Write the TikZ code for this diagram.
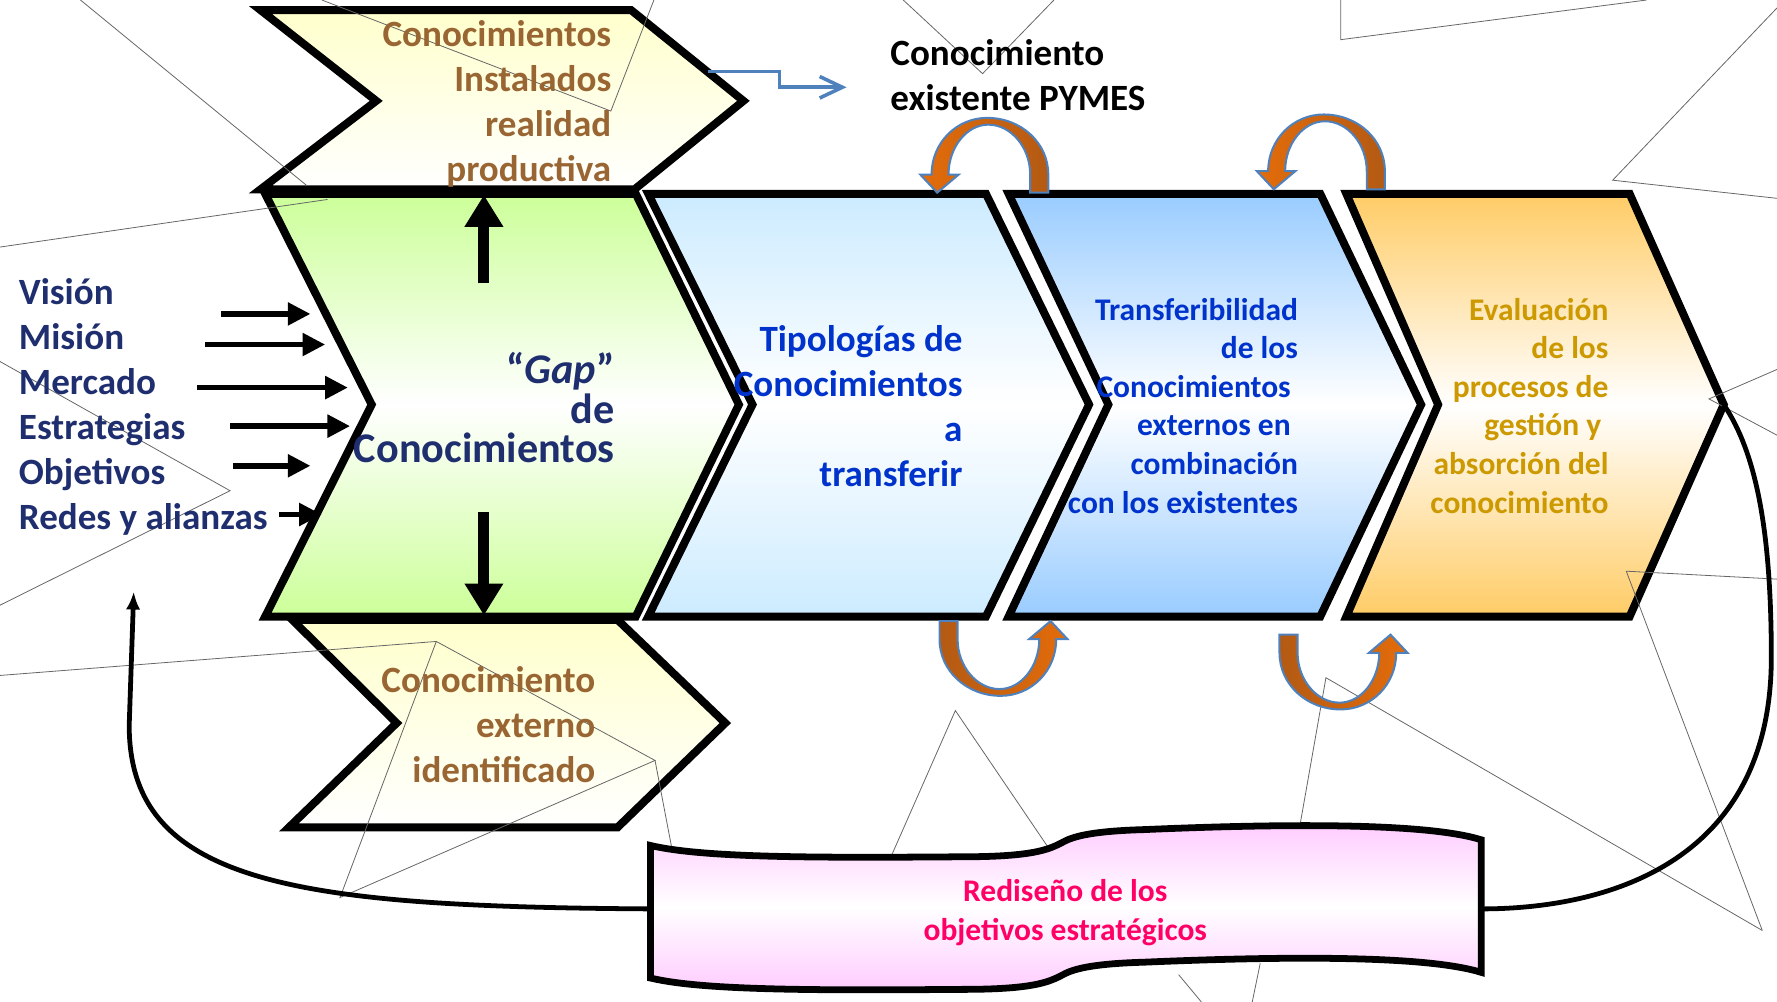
\documentclass[tikz,border=0pt]{standalone}
\usepackage{fontspec}
\setmainfont{Carlito}
\usepackage{xcolor}
\usetikzlibrary{arrows.meta}

\definecolor{navytext}{HTML}{1F2E6E}
\definecolor{browntext}{HTML}{996633}
\definecolor{bluetext}{HTML}{0033CC}
\definecolor{goldtext}{HTML}{CC9900}
\definecolor{pinktext}{HTML}{FF0066}
\definecolor{paleyellow}{HTML}{FFFFCC}
\definecolor{palegreen}{HTML}{CCFF99}
\definecolor{paleblue}{HTML}{CCEBFF}
\definecolor{midblue}{HTML}{99CCFF}
\definecolor{paleorange}{HTML}{FFCC66}
\definecolor{palepink}{HTML}{FFCCFF}
\definecolor{arroworange}{HTML}{E46C0A}
\definecolor{arrowbrown}{HTML}{B35A14}
\definecolor{edgeblue}{HTML}{4F81BD}

\begin{document}
\begin{tikzpicture}[x=0.01cm, y=-0.01cm,
    chev/.style={draw, line width=2pt, line join=miter},
    wave/.style={draw, line width=1.7pt, top color=palepink, bottom color=palepink, middle color=white},
    bgline/.style={draw=black!60, line width=0.2pt},
    bigtxt/.style={inner sep=0pt, align=right, font=\fontsize{9.3}{11.3}\selectfont\bfseries},
    smalltxt/.style={inner sep=0pt, align=right, font=\fontsize{7.9}{9.7}\selectfont\bfseries},
    blockarrow/.style={-{Triangle[length=8pt,width=9.2pt]}, line width=2.8pt},
    inarrow/.style={-{Triangle[length=5.7pt,width=5.5pt]}, line width=1.4pt},
    elbow/.style={-{Straight Barb[length=5.7pt,width=5.4pt]}, draw=edgeblue, line width=0.9pt},
    backline/.style={line width=1.2pt},
    curvarrow/.pic={
      \path[pic actions, draw=edgeblue, line width=0.5pt]
        (51,0) -- (51,-16) .. controls (51,-44) and (27,-66) .. (-3,-66)
        .. controls (-30,-66) and (-52,-44) .. (-52,-16)
        -- (-62,-16) -- (-47,0) -- (-28,-16) -- (-37,-16)
        .. controls (-37,-40) and (-21,-60) .. (-2,-60)
        .. controls (18,-60) and (35,-40) .. (35,-16) -- (35,0) -- cycle;
    }
]
\useasboundingbox (0,0) rectangle (1568,884);

\path[chev, top color=paleyellow, bottom color=white] (230,9) -- (557,9) -- (656,89) -- (560,167) -- (230,167) -- (332,89) -- cycle;
\path[chev, top color=paleyellow, bottom color=white] (258,547) -- (545,547) -- (640,638) -- (545,730) -- (255,730) -- (350,638) -- cycle;
\path[chev, top color=palegreen, bottom color=palegreen, middle color=white] (234,171) -- (561,171) -- (652,357) -- (561,544) -- (234,544) -- (328,357) -- cycle;
\path[chev, top color=paleblue, bottom color=paleblue, middle color=white] (572,171) -- (870,171) -- (961,357) -- (870,544) -- (572,544) -- (664,357) -- cycle;
\path[chev, top color=midblue, bottom color=midblue, middle color=white] (890,171) -- (1165,171) -- (1254,357) -- (1165,544) -- (890,544) -- (978,357) -- cycle;
\path[chev, top color=paleorange, bottom color=paleorange, middle color=white] (1188,171) -- (1438,171) -- (1521,357) -- (1438,544) -- (1188,544) -- (1269,357) -- cycle;

\draw[bgline] (71,0) -- (271,164);
\draw[bgline] (0,218) -- (289,176);
\draw[bgline] (284,0) -- (539,98) -- (577,0);
\draw[bgline] (0,319) -- (203,433) -- (0,534);
\draw[bgline] (797,0) -- (867,65) -- (930,0);
\draw[bgline] (1183,0) -- (1183,35) -- (1453,0);
\draw[bgline] (1568,7) -- (1423,159) -- (1568,175);
\draw[bgline] (1568,326) -- (1508,352) -- (1568,384);
\draw[bgline] (1555,821) -- (1435,504) -- (1568,511);
\draw[bgline] (0,596) -- (385,566) -- (300,792) -- (578,671) -- (385,566);
\draw[bgline] (578,671) -- (595,760);
\draw[bgline] (780,770) -- (843,627) -- (940,770);
\draw[bgline] (1145,740) -- (1170,598) -- (1555,821);
\draw[bgline] (1040,860) -- (1060,884);
\draw[bgline] (1112,850) -- (1105,884);

\path[wave] (574,746) .. controls (620,757) and (720,757) .. (850,756)
  .. controls (918,756) and (928,748) .. (940,742)
  .. controls (952,736) and (975,733) .. (1010,732)
  .. controls (1150,726) and (1262,727) .. (1307,741)
  -- (1307,858) .. controls (1262,844) and (1150,843) .. (1010,849)
  .. controls (975,850) and (952,853) .. (940,859)
  .. controls (928,865) and (918,873) .. (850,873)
  .. controls (720,874) and (620,874) .. (574,863) -- cycle;

\node[bigtxt, text=browntext, anchor=east] (installed) at (540,92) {Conocimientos\\Instalados\\realidad\\productiva};
\node[bigtxt, text=browntext, anchor=east] (external) at (526,639) {Conocimiento\\externo\\identificado};
\node[bigtxt, align=left, anchor=west] (pymes) at (785,66) {Conocimiento\\existente PYMES};
\node[bigtxt, align=left, text=navytext, anchor=west] (goals) at (16,359) {Visión\\Misión\\Mercado\\Estrategias\\Objetivos\\Redes y alianzas};
\node[inner sep=0pt, align=right, font=\fontsize{10.6}{9.9}\selectfont\bfseries, text=navytext, anchor=east] (gap) at (543,360) {“\textit{Gap}”\\de\\Conocimientos};
\node[bigtxt, text=bluetext, anchor=east] (types) at (850,358) {Tipologías de\\Conocimientos\\a\\transferir};
\node[smalltxt, text=bluetext, anchor=east] (transfer) at (1146,358) {Transferibilidad\\de los\\Conocimientos\kern.23em\\externos en\kern.23em\\combinación\\con los existentes};
\node[smalltxt, text=goldtext, anchor=east] (eval) at (1420,358) {Evaluación\\de los\\procesos de\\gestión y\kern.23em\\absorción del\\conocimiento};
\node[smalltxt, text=pinktext, align=center] (redesign) at (940,805) {Rediseño de los\\objetivos estratégicos};

\coordinate (upfrom) at (427,250);
\coordinate (upto) at (427,172);
\coordinate (downfrom) at (427,452);
\coordinate (downto) at (427,543);
\draw[blockarrow] (upfrom) -- (upto);
\draw[blockarrow] (downfrom) -- (downto);

\foreach \y/\xa/\xb in {277/195/274, 304/181/287, 342/174/307, 376/203/309, 411/206/274, 454/246/284}{
  \coordinate (infrom) at (\xa,\y);
  \coordinate (into) at (\xb,\y);
  \draw[inarrow] (infrom) -- (into);
}

\coordinate (instout) at (625,63);
\coordinate (pymesin) at (747,77);
\draw[elbow] (instout) -- ++(63,0) |- (pymesin);

\pic[left color=arroworange, right color=arrowbrown] at (874,170) {curvarrow};
\pic[left color=arroworange, right color=arrowbrown] at (1171,167) {curvarrow};
\pic[rotate=180, left color=arrowbrown, right color=arroworange] at (880,548) {curvarrow};
\pic[rotate=180, left color=arrowbrown, right color=arroworange] at (1180,560) {curvarrow};

\coordinate (evaltip) at (1521,357);
\coordinate (redisR) at (1307,802);
\coordinate (redisL) at (574,802);
\coordinate (loopend) at (118,522);
\draw[backline] (evaltip) .. controls (1550,400) and (1563,470) .. (1563,580) .. controls (1563,760) and (1420,802) .. (redisR);
\draw[backline, -{Latex[length=4.5pt,width=3.6pt]}] (redisL) .. controls (260,800) and (114,780) .. (114,640) -- (loopend);

\end{tikzpicture}
\end{document}
